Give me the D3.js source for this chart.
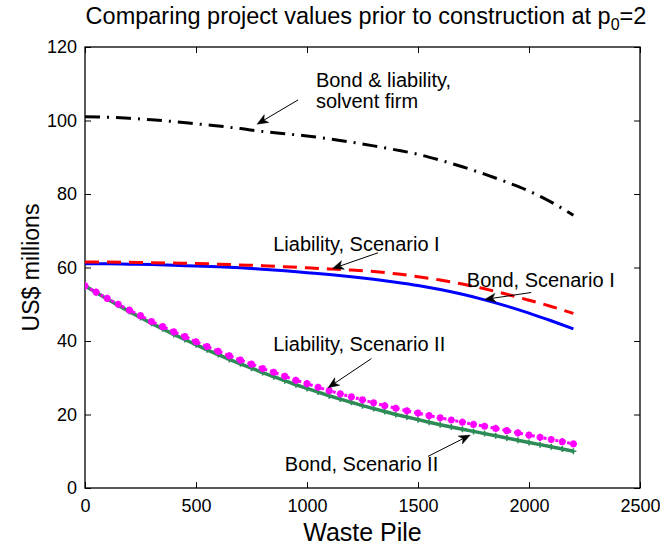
<!DOCTYPE html>
<html>
<head>
<meta charset="utf-8">
<script src="https://cdn.jsdelivr.net/npm/d3@7"></script>
<style>
  html, body { margin: 0; padding: 0; background: #fff; }
  svg { display: block; font-family: "Liberation Sans", Arial, Helvetica, sans-serif; }
</style>
</head>
<body>
<svg id="chart" width="660" height="546"></svg>
<script>
// Waste pile sizes (x) for the smooth curves, every 100 units
const pileCoarse = [0,100,200,300,400,500,600,700,800,900,1000,1100,1200,1300,1400,1500,1600,1700,1800,1900,2000,2100,2200];
// Waste pile sizes for the Scenario II curves, every 50 units
const pileFine = [0,50,100,150,200,250,300,350,400,450,500,550,600,650,700,750,800,850,900,950,1000,1050,1100,1150,1200,1250,1300,1350,1400,1450,1500,1550,1600,1650,1700,1750,1800,1850,1900,1950,2000,2050,2100,2150,2200];

// Bond & liability, solvent firm (US$ millions)
const solventValues = [101.0,100.9,100.6,100.2,99.7,99.1,98.5,97.8,97.0,96.4,95.8,95.0,94.1,93.1,92.0,90.8,89.2,87.4,85.4,83.2,80.8,77.8,74.2];
// Liability, Scenario I
const liabilityI = [61.5,61.5,61.4,61.3,61.2,61.1,60.9,60.7,60.5,60.2,59.9,59.6,59.3,58.9,58.3,57.5,56.6,55.5,54.2,52.7,51.1,49.4,47.5];
// Bond, Scenario I
const bondI = [61.0,61.0,60.9,60.8,60.6,60.4,60.2,59.9,59.5,59.1,58.6,58.1,57.5,56.8,56.0,55.1,54.0,52.7,51.2,49.5,47.6,45.5,43.3];
// Liability, Scenario II
const liabilityII = [55.0,53.3,51.6,50.0,48.4,46.9,45.3,43.9,42.5,41.2,39.8,38.5,37.2,36.0,34.8,33.7,32.5,31.5,30.4,29.3,28.4,27.4,26.5,25.6,24.8,24.0,23.2,22.4,21.7,21.0,20.4,19.7,19.1,18.5,17.9,17.3,16.8,16.2,15.6,15.0,14.4,13.8,13.2,12.6,12.0];
// Bond, Scenario II
const bondII = [55.0,53.2,51.4,49.7,48.0,46.4,44.8,43.3,41.8,40.4,39.0,37.6,36.3,35.0,33.8,32.6,31.4,30.3,29.2,28.1,27.1,26.1,25.1,24.2,23.3,22.4,21.6,20.8,20.0,19.3,18.6,17.9,17.2,16.6,16.0,15.4,14.8,14.2,13.6,13.0,12.4,11.8,11.2,10.6,10.0];

const xTicks = [0,500,1000,1500,2000,2500];
const yTicks = [0,20,40,60,80,100,120];

// Annotation labels: text lines, anchor point, and arrow (tail -> head) in data units
const notes = [
  { lines: ["Bond & liability,", "solvent firm"], x: 1040, y: 109.0, tail: [960, 105.6], head: [775, 99.0] },
  { lines: ["Liability, Scenario I"], x: 848, y: 64.6, tail: [1320, 64.0], head: [1115, 59.7] },
  { lines: ["Bond, Scenario I"], x: 1720, y: 54.6, tail: [2010, 53.2], head: [1800, 51.3] },
  { lines: ["Liability, Scenario II"], x: 848, y: 37.4, tail: [1290, 35.2], head: [1095, 27.3] },
  { lines: ["Bond, Scenario II"], x: 900, y: 4.6, tail: [1545, 8.6], head: [1735, 14.4] }
];

const svg = d3.select("#chart");
const margin = { left: 85, right: 20, top: 47, bottom: 58 };
const W = 660, H = 546;
const x = d3.scaleLinear().domain([0, 2500]).range([margin.left, W - margin.right]);
const y = d3.scaleLinear().domain([0, 120]).range([H - margin.bottom, margin.top]);

// Clip region for the plotted curves
svg.append("defs").append("clipPath").attr("id", "plotClip")
  .append("rect").attr("x", x(0)).attr("y", y(120)).attr("width", x(2500) - x(0)).attr("height", y(0) - y(120));

// Axes with inward ticks on all four sides
const tickLen = 6;
const axBottom = d3.axisBottom(x).tickValues(xTicks).tickSize(-tickLen).tickPadding(11).tickFormat(d3.format("d"));
const axTop = d3.axisTop(x).tickValues(xTicks).tickSize(-tickLen).tickFormat("");
const axLeft = d3.axisLeft(y).tickValues(yTicks).tickSize(-tickLen).tickPadding(8).tickFormat(d3.format("d"));
const axRight = d3.axisRight(y).tickValues(yTicks).tickSize(-tickLen).tickFormat("");

function styleAxis(g) {
  g.select(".domain").remove();
  g.selectAll(".tick line").attr("stroke", "#000").attr("stroke-width", 1);
  g.selectAll(".tick text").attr("fill", "#000").attr("font-size", 18)
    .attr("font-family", "'Liberation Sans', Arial, sans-serif");
}
svg.append("g").attr("transform", `translate(0,${y(0)})`).call(axBottom).call(styleAxis);
svg.append("g").attr("transform", `translate(0,${y(120)})`).call(axTop).call(styleAxis);
svg.append("g").attr("transform", `translate(${x(0)},0)`).call(axLeft).call(styleAxis);
svg.append("g").attr("transform", `translate(${x(2500)},0)`).call(axRight).call(styleAxis);

// Plot frame
svg.append("rect").attr("x", x(0)).attr("y", y(120))
  .attr("width", x(2500) - x(0)).attr("height", y(0) - y(120))
  .attr("fill", "none").attr("stroke", "#000").attr("stroke-width", 1.3);

const plot = svg.append("g").attr("clip-path", "url(#plotClip)");
const line = d3.line().x(d => x(d[0])).y(d => y(d[1]));
const zip = (xs, ys) => xs.map((v, i) => [v, ys[i]]);

// Bond & liability, solvent firm: black dash-dot
plot.append("path").datum(zip(pileCoarse, solventValues)).attr("d", line.curve(d3.curveMonotoneX))
  .attr("fill", "none").attr("stroke", "#000").attr("stroke-width", 3)
  .attr("stroke-dasharray", "15,7,2,7");

// Bond, Scenario I: solid blue
plot.append("path").datum(zip(pileCoarse, bondI)).attr("d", line.curve(d3.curveMonotoneX))
  .attr("fill", "none").attr("stroke", "#0000ff").attr("stroke-width", 3);

// Liability, Scenario I: red dashed
plot.append("path").datum(zip(pileCoarse, liabilityI)).attr("d", line.curve(d3.curveMonotoneX))
  .attr("fill", "none").attr("stroke", "#ff0000").attr("stroke-width", 3)
  .attr("stroke-dasharray", "14,8");

// Bond, Scenario II: sea-green solid line with plus markers
const bondIIPts = zip(pileFine, bondII);
plot.append("path").datum(bondIIPts).attr("d", line.curve(d3.curveLinear))
  .attr("fill", "none").attr("stroke", "#2e8b57").attr("stroke-width", 3.5);
plot.append("g").selectAll("path").data(bondIIPts).join("path")
  .attr("d", d => `M${x(d[0]) - 3},${y(d[1])}h6M${x(d[0])},${y(d[1]) - 3}v6`)
  .attr("stroke", "#2e8b57").attr("stroke-width", 1.6).attr("fill", "none");

// Liability, Scenario II: magenta dotted line with star markers
const liabIIPts = zip(pileFine, liabilityII);
plot.append("path").datum(liabIIPts).attr("d", line.curve(d3.curveLinear))
  .attr("fill", "none").attr("stroke", "#ff00ff").attr("stroke-width", 3)
  .attr("stroke-dasharray", "3,3");
plot.append("g").selectAll("path").data(liabIIPts).join("path")
  .attr("d", d => {
    const cx = x(d[0]), cy = y(d[1]), r = 3.6;
    return `M${cx - r},${cy}h${2 * r}M${cx},${cy - r}v${2 * r}` +
      `M${cx - r * 0.7},${cy - r * 0.7}l${1.4 * r},${1.4 * r}M${cx - r * 0.7},${cy + r * 0.7}l${1.4 * r},${-1.4 * r}`;
  })
  .attr("stroke", "#ff00ff").attr("stroke-width", 2.2).attr("fill", "none");

// Annotations: labels with arrows pointing at their curves
const ann = svg.append("g").attr("font-size", 20).attr("fill", "#000");
notes.forEach(n => {
  const t = ann.append("text").attr("x", x(n.x)).attr("y", y(n.y));
  n.lines.forEach((s, i) => {
    t.append("tspan").attr("x", x(n.x)).attr("dy", i === 0 ? 0 : 21).text(s);
  });
  const x1 = x(n.tail[0]), y1 = y(n.tail[1]), x2 = x(n.head[0]), y2 = y(n.head[1]);
  const ang = Math.atan2(y2 - y1, x2 - x1);
  const L = 11, Wd = 4.5, back = 8;
  const bx = x2 - L * Math.cos(ang), by = y2 - L * Math.sin(ang);
  const px = -Math.sin(ang), py = Math.cos(ang);
  const mx = x2 - back * Math.cos(ang), my = y2 - back * Math.sin(ang);
  ann.append("line").attr("x1", x1).attr("y1", y1).attr("x2", mx).attr("y2", my)
    .attr("stroke", "#000").attr("stroke-width", 1);
  ann.append("path")
    .attr("d", `M${x2},${y2}L${bx + px * Wd},${by + py * Wd}L${mx},${my}L${bx - px * Wd},${by - py * Wd}Z`)
    .attr("fill", "#000").attr("stroke", "#000").attr("stroke-width", 0.5);
});

// Title with subscript
const title = svg.append("text").attr("x", 366).attr("y", 24)
  .attr("text-anchor", "middle").attr("font-size", 23.5).attr("fill", "#000");
title.append("tspan").text("Comparing project values prior to construction at p");
title.append("tspan").attr("font-size", 16).attr("dy", 6).text("0");
title.append("tspan").attr("dy", -6).text("=2");

// Axis labels
svg.append("text").attr("x", (x(0) + x(2500)) / 2).attr("y", 541)
  .attr("text-anchor", "middle").attr("font-size", 25).attr("fill", "#000").text("Waste Pile");
svg.append("text").attr("transform", `translate(39,${(y(0) + y(120)) / 2}) rotate(-90)`)
  .attr("text-anchor", "middle").attr("font-size", 23).attr("fill", "#000").text("US$ millions");
</script>
</body>
</html>
